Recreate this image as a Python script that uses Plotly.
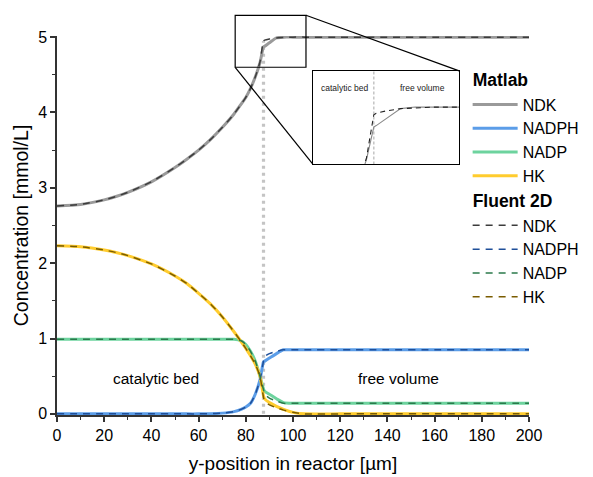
import plotly.graph_objects as go

# ---------------- data ----------------
x_pos = [0, 10, 20, 25, 30, 40, 50, 55, 60, 65, 70, 75, 78, 80, 82, 84, 86, 87.5,
         88, 90, 93, 96, 100, 105, 120, 140, 160, 180, 200]

ndk_matlab   = [2.76, 2.78, 2.84, 2.885, 2.94, 3.08, 3.27, 3.38, 3.50, 3.64, 3.80, 3.98,
                4.11, 4.20, 4.32, 4.47, 4.66, 4.87, 4.88, 4.925, 4.99, 5.0, 5.0, 5.0,
                5.0, 5.0, 5.0, 5.0, 5.0]
nadph_matlab = [0.0, 0.0, 0.0, 0.0, 0.0, 0.0, 0.0, 0.0, 0.0, 0.003, 0.01, 0.03,
                0.06, 0.09, 0.14, 0.26, 0.45, 0.69, 0.70, 0.74, 0.80, 0.85, 0.85, 0.85,
                0.85, 0.85, 0.85, 0.85, 0.85]
nadp_matlab  = [0.99, 0.99, 0.99, 0.99, 0.99, 0.99, 0.99, 0.99, 0.99, 0.99, 0.99, 0.99,
                0.97, 0.92, 0.83, 0.70, 0.50, 0.33, 0.30, 0.26, 0.20, 0.15, 0.14, 0.14,
                0.14, 0.14, 0.14, 0.14, 0.14]
hk_matlab    = [2.23, 2.217, 2.175, 2.142, 2.10, 1.99, 1.83, 1.73, 1.60, 1.46, 1.29, 1.09,
                0.96, 0.87, 0.77, 0.66, 0.50, 0.24, 0.20, 0.15, 0.10, 0.06, 0.02, 0.0,
                0.0, 0.0, 0.0, 0.0, 0.0]

ndk_fluent   = [2.76, 2.78, 2.84, 2.885, 2.94, 3.08, 3.27, 3.38, 3.50, 3.64, 3.80, 3.98,
                4.11, 4.20, 4.32, 4.47, 4.67, 4.95, 4.96, 4.975, 4.99, 4.995, 5.0, 5.0,
                5.0, 5.0, 5.0, 5.0, 5.0]
nadph_fluent = [0.0, 0.0, 0.0, 0.0, 0.0, 0.0, 0.0, 0.0, 0.0, 0.003, 0.01, 0.03,
                0.06, 0.09, 0.14, 0.26, 0.45, 0.70, 0.76, 0.80, 0.83, 0.85, 0.85, 0.85,
                0.85, 0.85, 0.85, 0.85, 0.85]
nadp_fluent  = [0.99, 0.99, 0.99, 0.99, 0.99, 0.99, 0.99, 0.99, 0.99, 0.99, 0.99, 0.99,
                0.97, 0.92, 0.83, 0.70, 0.50, 0.32, 0.26, 0.21, 0.17, 0.14, 0.14, 0.14,
                0.14, 0.14, 0.14, 0.14, 0.14]
hk_fluent    = [2.23, 2.217, 2.175, 2.142, 2.10, 1.99, 1.83, 1.73, 1.60, 1.46, 1.29, 1.09,
                0.96, 0.87, 0.77, 0.66, 0.50, 0.22, 0.17, 0.12, 0.08, 0.05, 0.02, 0.0,
                0.0, 0.0, 0.0, 0.0, 0.0]

species = ["NDK", "NADPH", "NADP", "HK"]
interface_x = 87.5
interface_top = 4.95
x_ticks = [0, 20, 40, 60, 80, 100, 120, 140, 160, 180, 200]
y_ticks = [0, 1, 2, 3, 4, 5]
zoom_x = [75.5, 105.5]
zoom_y = [4.6, 5.29]
inset_x = [75.0, 105.0]
inset_y = [4.63, 5.235]

# ---------------- styles ----------------
matlab_colors = ["#9a9a9a", "#5b9de8", "#6dd39e", "#ffcc2e"]
fluent_colors = ["#3c3c3c", "#1f4f99", "#2b7a4b", "#7a5c00"]
FONT = "Liberation Sans, Arial, sans-serif"
XR = [0, 200]
YR = [-0.015, 5.015]

matlab = [ndk_matlab, nadph_matlab, nadp_matlab, hk_matlab]
fluent = [ndk_fluent, nadph_fluent, nadp_fluent, hk_fluent]

fig = go.Figure()

# interface dotted line (main)
fig.add_trace(go.Scatter(x=[interface_x, interface_x], y=[0, interface_top], mode="lines",
                         line=dict(color="#c4c4c4", width=3.2, dash="3px,4px"),
                         showlegend=False, hoverinfo="skip"))

for i, name in enumerate(species):
    fig.add_trace(go.Scatter(
        x=x_pos, y=matlab[i], mode="lines", name=name,
        line=dict(color=matlab_colors[i], width=3, shape="spline", smoothing=0.6),
        legendgroup="matlab",
        legendgrouptitle=dict(text="Matlab", font=dict(size=17.5, family=FONT, color="black", weight="bold")),
    ))
for i, name in enumerate(species):
    fig.add_trace(go.Scatter(
        x=x_pos, y=fluent[i], mode="lines", name=name,
        line=dict(color=fluent_colors[i], width=1.5, dash="7px,6px", shape="spline", smoothing=0.6),
        legendgroup="fluent",
        legendgrouptitle=dict(text="Fluent 2D", font=dict(size=17.5, family=FONT, color="black", weight="bold")),
    ))

# inset traces
fig.add_trace(go.Scatter(x=[interface_x, interface_x], y=[inset_y[0] - 0.1, inset_y[1] + 0.1],
                         mode="lines", xaxis="x2", yaxis="y2",
                         line=dict(color="#c4c4c4", width=1.5, dash="3px,2px"),
                         showlegend=False, hoverinfo="skip"))
fig.add_trace(go.Scatter(x=x_pos, y=ndk_matlab, mode="lines", xaxis="x2", yaxis="y2",
                         line=dict(color="#8a8a8a", width=1.1), showlegend=False))
fig.add_trace(go.Scatter(x=x_pos, y=ndk_fluent, mode="lines", xaxis="x2", yaxis="y2",
                         line=dict(color="#222222", width=1.1, dash="5px,4px"), showlegend=False))

# geometry helpers (paper coordinates of the plot area)
def px(x):
    return (x - XR[0]) / (XR[1] - XR[0])

def py(y):
    return (y - YR[0]) / (YR[1] - YR[0])

inset_dx = [0.542, 0.852]
inset_dy = [0.662, 0.908]

shapes = [
    dict(type="rect", xref="paper", yref="paper", x0=px(zoom_x[0]), x1=px(zoom_x[1]),
         y0=py(zoom_y[0]), y1=py(zoom_y[1]), line=dict(color="black", width=1.2)),
    dict(type="line", xref="paper", yref="paper", x0=px(zoom_x[1]), y0=py(zoom_y[1]),
         x1=inset_dx[1], y1=inset_dy[1], line=dict(color="black", width=1.2)),
    dict(type="line", xref="paper", yref="paper", x0=px(zoom_x[0]), y0=py(zoom_y[0]),
         x1=inset_dx[0], y1=inset_dy[0], line=dict(color="black", width=1.2)),
]

annotations = [
    dict(x=42, y=0.47, xref="x", yref="y", text="catalytic bed", showarrow=False,
         xanchor="center", yanchor="middle", font=dict(size=15.5, family=FONT, color="black")),
    dict(x=144.5, y=0.47, xref="x", yref="y", text="free volume", showarrow=False,
         xanchor="center", yanchor="middle", font=dict(size=15.5, family=FONT, color="black")),
    dict(x=0.610, y=0.863, xref="paper", yref="paper", text="catalytic bed", showarrow=False,
         xanchor="center", yanchor="middle", font=dict(size=8.5, family=FONT, color="#222")),
    dict(x=0.775, y=0.863, xref="paper", yref="paper", text="free volume", showarrow=False,
         xanchor="center", yanchor="middle", font=dict(size=8.5, family=FONT, color="#222")),
]

axis_common = dict(showgrid=False, zeroline=False, showline=True, linecolor="#333333",
                   linewidth=1.5, ticks="outside", ticklen=5, tickwidth=1.5, tickcolor="#333333",
                   tickfont=dict(size=16, family=FONT, color="black"))

fig.update_layout(
    width=593, height=477,
    margin=dict(l=57, r=64, t=36, b=62, autoexpand=False),
    paper_bgcolor="white", plot_bgcolor="white",
    font=dict(family=FONT, color="black"),
    xaxis=dict(range=XR, tickvals=x_ticks, domain=[0, 1],
               minor=dict(dtick=10, ticks="outside", ticklen=3, tickwidth=1.2, tickcolor="#333333"),
               title=dict(text="y-position in reactor [µm]", font=dict(size=19, family=FONT), standoff=14),
               **axis_common),
    yaxis=dict(range=YR, tickvals=y_ticks, domain=[0, 1],
               minor=dict(dtick=0.5, ticks="outside", ticklen=3, tickwidth=1.2, tickcolor="#333333"),
               title=dict(text="Concentration [mmol/L]", font=dict(size=19.5, family=FONT), standoff=4),
               **axis_common),
    xaxis2=dict(domain=inset_dx, anchor="y2", range=inset_x, showgrid=False, zeroline=False,
                showline=True, mirror=True, linecolor="black", linewidth=1.2,
                ticks="", showticklabels=False),
    yaxis2=dict(domain=inset_dy, anchor="x2", range=inset_y, showgrid=False, zeroline=False,
                showline=True, mirror=True, linecolor="black", linewidth=1.2,
                ticks="", showticklabels=False),
    legend=dict(x=0.870, y=0.932, xanchor="left", yanchor="top", bgcolor="rgba(255,255,255,0)",
                font=dict(size=16, family=FONT, color="black"), traceorder="grouped",
                tracegroupgap=0, itemwidth=45),
    shapes=shapes,
    annotations=annotations,
)

fig.write_html("out.html")
